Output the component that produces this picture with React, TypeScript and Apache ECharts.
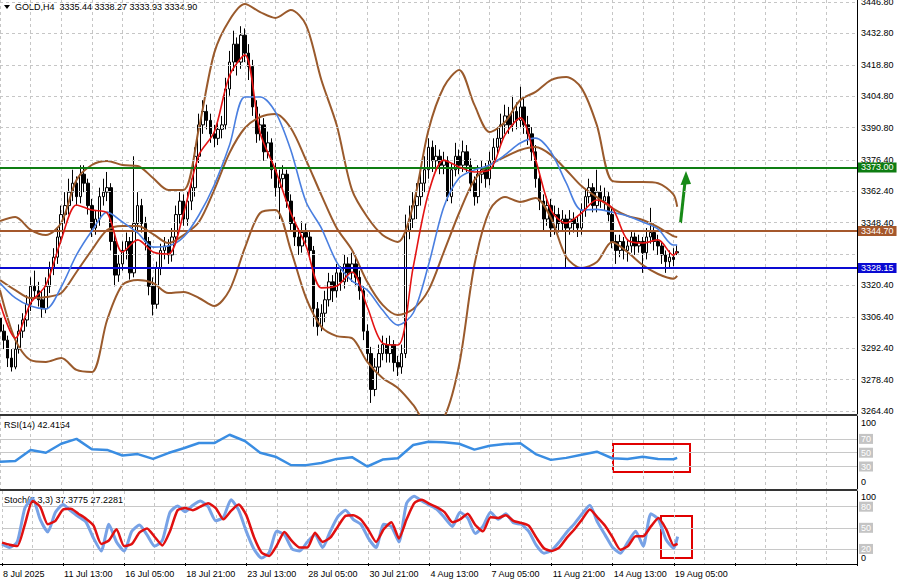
import React, { useEffect, useRef } from 'react';
import * as echarts from 'echarts';

// ---------- data ----------
const SLOT_COUNT = 225; // bars + empty space on the right
const TICK_STEP = 16;
const tickLabels = ['8 Jul 2025', '11 Jul 13:00', '16 Jul 05:00', '18 Jul 21:00', '23 Jul 13:00', '28 Jul 05:00',
  '30 Jul 21:00', '4 Aug 13:00', '7 Aug 05:00', '11 Aug 21:00', '14 Aug 13:00', '19 Aug 05:00'];

const opens = [
  3306,3300,3296,3288,3284,3292,3300,3305,3312,3320,
  3318,3314,3310,3320,3328,3333,3342,3352,3356,3362,
  3366,3360,3370,3366,3356,3346,3350,3360,3362,3364,
  3340,3325,3330,3336,3340,3326,3348,3356,3348,3340,
  3320,3312,3328,3336,3338,3334,3342,3352,3358,3350,
  3358,3364,3378,3392,3398,3394,3388,3386,3390,3392,
  3408,3420,3428,3420,3432,3424,3418,3400,3388,3392,
  3380,3384,3372,3364,3368,3370,3358,3348,3342,3338,
  3344,3342,3336,3310,3302,3308,3314,3322,3318,3326,
  3322,3330,3326,3330,3324,3318,3300,3290,3274,3284,
  3290,3294,3290,3294,3286,3284,3290,3345,3350,3356,
  3360,3366,3372,3382,3376,3378,3374,3376,3360,3372,
  3378,3374,3380,3374,3366,3360,3370,3372,3368,3376,
  3382,3386,3392,3396,3392,3398,3394,3400,3392,3388,
  3380,3368,3358,3350,3356,3346,3352,3348,3350,3346,
  3350,3348,3346,3354,3360,3364,3356,3362,3358,3360,
  3352,3340,3336,3340,3336,3338,3342,3338,3340,3335,
  3342,3344,3340,3338,3334,3331,3333,3335.44];
const closes = [
  3300,3296,3288,3284,3292,3300,3305,3312,3320,3318,
  3314,3310,3320,3328,3333,3342,3352,3356,3362,3366,
  3360,3370,3366,3356,3346,3350,3360,3362,3364,3340,
  3325,3330,3336,3340,3326,3348,3356,3348,3340,3320,
  3312,3328,3336,3338,3334,3342,3352,3358,3350,3358,
  3364,3378,3392,3398,3394,3388,3386,3390,3392,3408,
  3420,3428,3420,3432,3424,3418,3400,3388,3392,3380,
  3384,3372,3364,3368,3370,3358,3348,3342,3338,3344,
  3342,3336,3310,3302,3308,3314,3322,3318,3326,3322,
  3330,3326,3330,3324,3318,3300,3290,3274,3284,3290,
  3294,3290,3294,3286,3284,3290,3345,3350,3356,3360,
  3366,3372,3382,3376,3378,3374,3376,3360,3372,3378,
  3374,3380,3374,3366,3360,3370,3372,3368,3376,3382,
  3386,3392,3396,3392,3398,3394,3400,3392,3388,3380,
  3368,3358,3350,3356,3346,3352,3348,3350,3346,3350,
  3348,3346,3354,3360,3364,3356,3362,3358,3360,3352,
  3340,3336,3340,3336,3338,3342,3338,3340,3335,3342,
  3344,3340,3338,3334,3331,3333,3332,3334.90];
const highs = [
  3310,3303,3298,3292,3296,3303,3308,3316,3324,3327,
  3322,3318,3324,3331,3337,3346,3356,3362,3368,3372,
  3369,3374,3374,3368,3359,3354,3364,3368,3371,3366,
  3343,3334,3340,3344,3342,3378,3362,3359,3351,3342,
  3324,3331,3339,3342,3341,3346,3356,3362,3361,3362,
  3368,3382,3397,3403,3401,3397,3392,3394,3396,3413,
  3425,3434,3431,3436,3435,3428,3421,3403,3397,3395,
  3389,3386,3375,3372,3374,3372,3361,3351,3346,3349,
  3348,3345,3338,3313,3312,3318,3326,3325,3330,3329,
  3334,3333,3335,3333,3327,3320,3303,3293,3288,3294,
  3298,3297,3298,3296,3289,3294,3352,3356,3362,3366,
  3372,3378,3386,3385,3383,3381,3380,3378,3375,3384,
  3381,3385,3383,3377,3369,3374,3376,3375,3380,3386,
  3391,3397,3401,3400,3405,3402,3409,3404,3396,3391,
  3383,3371,3361,3360,3359,3356,3355,3354,3352,3354,
  3353,3351,3357,3363,3368,3366,3372,3365,3364,3362,
  3355,3343,3343,3342,3341,3345,3344,3343,3342,3346,
  3355,3348,3343,3340,3336,3336,3337,3338.27];
const lows = [
  3297,3292,3284,3282,3283,3290,3297,3302,3309,3315,
  3311,3306,3308,3317,3325,3330,3339,3348,3352,3358,
  3356,3357,3362,3352,3342,3343,3347,3356,3358,3336,
  3320,3322,3327,3332,3323,3324,3344,3344,3336,3316,
  3307,3310,3325,3332,3330,3331,3339,3348,3347,3347,
  3354,3360,3375,3388,3390,3384,3382,3383,3386,3390,
  3405,3416,3414,3417,3420,3412,3396,3384,3385,3376,
  3377,3368,3360,3350,3364,3355,3345,3338,3334,3335,
  3338,3332,3302,3298,3300,3304,3311,3313,3315,3318,
  3319,3322,3322,3320,3314,3296,3286,3268,3271,3281,
  3287,3286,3286,3282,3280,3281,3288,3341,3346,3350,
  3356,3362,3368,3371,3372,3370,3370,3358,3357,3369,
  3370,3371,3371,3362,3356,3357,3366,3364,3365,3373,
  3379,3383,3388,3388,3389,3390,3391,3388,3383,3376,
  3364,3354,3345,3347,3342,3343,3344,3345,3328,3343,
  3344,3342,3343,3351,3357,3353,3353,3355,3354,3349,
  3337,3330,3333,3332,3331,3335,3334,3335,3326,3332,
  3339,3336,3334,3330,3326,3328,3329,3333.93];

// indicator lines read every 4 bars (bar index of each reading)
const lineIdx = [0,4,8,12,16,20,24,28,32,36,40,44,48,52,56,60,64,68,72,76,80,84,88,92,96,100,
  104,108,112,116,120,124,128,132,136,140,144,148,152,156,160,164,168,172,176,177];
const maFast = [3312.5,3296.9,3312.5,3320.6,3340.7,3356.3,3354.0,3352.7,3335.3,3340.7,3335.3,3334.4,
  3352.7,3378.6,3388.8,3414.0,3423.2,3388.4,3371.9,3352.7,3338.0,3319.3,3320.1,3326.4,3310.8,3294.7,
  3293.8,3328.6,3361.6,3376.3,3373.2,3371.0,3371.9,3387.5,3395.1,3376.3,3354.0,3348.2,3352.7,3358.5,
  3355.0,3340.7,3339.3,3340.7,3333.9,3335.4];
const maSlow = [3321.5,3314.8,3311.2,3309.9,3319.7,3334.0,3344.7,3353.1,3348.7,3343.8,3337.5,3338.0,
  3342.0,3351.8,3365.2,3383.0,3404.4,3404.4,3397.7,3380.8,3357.6,3346.0,3330.8,3322.4,3318.3,3309.4,
  3302.7,3308.1,3329.5,3355.4,3368.3,3371.9,3374.1,3378.6,3383.9,3386.1,3379.9,3366.1,3354.0,3354.3,
  3353.0,3351.4,3348.7,3345.5,3338.4,3338.4];
const bbUpper = [3349.1,3350.9,3345.2,3342.9,3348.3,3367.4,3374.1,3375.9,3374.1,3373.7,3368.3,3363.0,
  3363.0,3390.6,3424.1,3438.8,3445.9,3442.3,3439.7,3443.2,3436.5,3412.0,3391.9,3363.0,3350.9,3342.9,
  3339.8,3356.3,3389.7,3408.9,3416.5,3400.9,3388.8,3393.3,3403.1,3406.7,3412.0,3413.4,3408.4,3391.9,
  3367.0,3366.5,3366.5,3366.0,3361.0,3355.5];
const bbMiddle = [3322.8,3318.3,3314.8,3315.2,3317.0,3326.4,3336.2,3345.1,3346.9,3346.9,3343.3,3339.3,
  3342.9,3348.7,3363.0,3379.5,3390.6,3395.5,3396.9,3390.6,3376.3,3360.7,3346.0,3336.2,3321.9,3311.7,
  3307.2,3309.9,3318.3,3335.3,3352.7,3367.4,3374.1,3377.7,3380.8,3382.1,3378.6,3371.9,3364.7,3359.8,
  3354.9,3351.4,3349.6,3346.4,3342.4,3342.0];
const bbLower = [3318.3,3296.1,3287.1,3286.3,3288.0,3282.7,3281.8,3305.0,3320.6,3322.8,3321.5,3317.0,
  3317.5,3314.8,3311.2,3318.3,3337.1,3352.7,3354.0,3336.2,3314.8,3301.9,3297.8,3296.9,3286.3,3279.1,
  3274.6,3267.1,3258.2,3261.3,3284.9,3329.5,3354.0,3359.8,3357.6,3359.4,3350.5,3333.1,3328.2,3330.8,
  3339.8,3335.3,3329.5,3325.5,3323.4,3324.7];
const rsiValues = [37,38,53.9,50,63,70,55,54,46,48,41,49.5,56.4,64,64,76,67,50,44.2,32.2,32,35,41,43.5,
  30,40,42,61.2,66,65,63,54.5,60,62.5,63.6,48,39.6,42.5,47,51.5,42,41,44,41,40.5,42.4154];

// stochastic read every 2 bars
const stochIdx = Array.from({ length: 89 }, (_, k) => k * 2).concat([177]);
const stochMain = [27,22,30,78,92,62,44,72,83,74, 66,58,35,17,55,30,17,45,54,40,
  24,32,72,81,73,82,88,80,60,65, 90,75,45,20,7,15,45,40,20,17,
  30,40,22,45,66,75,62,55,35,22, 55,52,30,85,95,88,82,76,64,52,
  72,64,42,52,72,62,70,57,55,45, 25,14,18,30,44,56,70,82,58,40,
  22,14,30,45,24,70,62,33,21,37.3775];
const stochSignal = [29,26,24,55,88,80,55,60,76,77, 70,63,53,27,32,48,24,27,43,49,
  37,25,45,75,78,75,80,85,78,62, 74,83,68,37,15,10,25,44,31,22,
  22,43,30,36,52,67,68,62,47,30, 48,58,35,62,85,90,84,79,72,58,
  62,70,54,45,65,64,68,60,57,53, 36,21,17,22,36,48,62,76,65,53,
  36,19,24,38,38,52,64,48,25,27.2281];

const priceTicks = [3446.8,3432.8,3418.8,3404.8,3390.8,3376.4,3362.4,3348.4,3334.4,3320.4,3306.4,3292.4,3278.4,3264.4];
const priceTickLabels = ['3446.80','3432.80','3418.80','3404.80','3390.80','3376.40','3362.40','3348.40','','3320.40','3306.40','3292.40','3278.40','3264.40'];
const priceLevels = [3373.00, 3344.70, 3328.15];
const priceLevelLabels = ['3373.00', '3344.70', '3328.15'];
const lastPrice = 3334.90;
const rsiLevels = [70, 50, 30];
const stochLevels = [80, 50, 20];

const headerText = 'GOLD,H4  3335.44 3338.27 3333.93 3334.90';
const rsiText = 'RSI(14) 42.4154';
const stochText = 'Stoch(5,3,3) 37.3775 27.2281';

// ---------- styling ----------
const FONT = "'Liberation Sans', Arial, sans-serif";
const GRID_C = '#c6c6c6';
const BROWN = '#9a5a2c';
const LEVEL_COLORS = ['#0e7d12', '#a5582c', '#0a0ad2'];

const categories = Array.from({ length: SLOT_COUNT }, (_, i) =>
  i % TICK_STEP === 0 && i / TICK_STEP < tickLabels.length ? tickLabels[i / TICK_STEP] : '');
const pairs = (idx: number[], vals: number[]) => idx.map((x, k) => [x, vals[k]]);

function buildOption() {
  const grids = [
    { left: -1, width: 858, top: 0, height: 414 },
    { left: -1, width: 858, top: 416, height: 73 },
    { left: -1, width: 858, top: 491, height: 73 },
  ];
  const mkX = (gi: number, labels: boolean) => ({
    type: 'category', gridIndex: gi, data: categories, boundaryGap: false,
    axisLine: { show: false },
    axisTick: { show: labels, interval: (i: number) => i % TICK_STEP === 0, length: 3, lineStyle: { color: '#000' } },
    axisLabel: {
      show: labels, interval: (i: number) => i % TICK_STEP === 0, align: 'left', margin: 5,
      fontSize: 9, color: '#000', fontFamily: FONT, padding: [0, 0, 0, 1],
    },
    splitLine: { show: true, interval: (i: number) => i % 8 === 0, lineStyle: { color: GRID_C, type: [3, 3], width: 1 } },
  });
  const mkY = (gi: number, min: number, max: number) => ({
    type: 'value', gridIndex: gi, min, max, position: 'right',
    axisLine: { show: true, lineStyle: { color: '#000', width: 1 } },
    axisTick: { show: false }, axisLabel: { show: false }, splitLine: { show: false },
  });
  const lineS = (xi: number, data: any[], color: string, width: number, z: number, smooth: any = 0.3) => ({
    type: 'line', xAxisIndex: xi, yAxisIndex: xi, data, symbol: 'none', smooth, z,
    lineStyle: { color, width }, silent: true,
  });
  const boxLabel = {
    position: 'end', formatter: '{b}', fontSize: 9, fontFamily: FONT, distance: 2,
    color: '#ffffff', backgroundColor: '#c4c4c4', padding: [1, 2, 0, 2],
  };

  return {
    animation: false,
    backgroundColor: '#ffffff',
    grid: grids,
    xAxis: [mkX(0, false), mkX(1, false), mkX(2, true)],
    yAxis: [mkY(0, 3263.06, 3447.69), mkY(1, -2.6, 103.2), mkY(2, -1.4, 102.3)],
    series: [
      {
        type: 'line', xAxisIndex: 0, yAxisIndex: 0, data: [], z: 1, silent: true,
        markLine: {
          silent: true, symbol: ['none', 'none'], animation: false,
          lineStyle: { color: GRID_C, type: [3, 3], width: 1 },
          label: { position: 'end', formatter: '{b}', color: '#000', fontSize: 9, fontFamily: FONT, distance: 4 },
          data: priceTicks.map((v, k) => ({ yAxis: v, name: priceTickLabels[k] })),
        },
      },
      {
        type: 'line', xAxisIndex: 0, yAxisIndex: 0, data: [], z: 2, silent: true,
        markLine: {
          silent: true, symbol: ['none', 'none'], animation: false,
          label: { position: 'end', formatter: '{b}', fontSize: 9, fontFamily: FONT, distance: 1, color: '#fff', padding: [1, 3, 0, 3] },
          data: [
            ...priceLevels.map((v, k) => ({
              yAxis: v, name: priceLevelLabels[k],
              lineStyle: { color: LEVEL_COLORS[k], width: 2, type: 'solid' },
              label: { backgroundColor: LEVEL_COLORS[k] },
            })),
            { yAxis: lastPrice, name: lastPrice.toFixed(2), lineStyle: { opacity: 0, width: 0 }, label: { backgroundColor: '#000' } },
          ],
        },
      },
      {
        type: 'candlestick', xAxisIndex: 0, yAxisIndex: 0, z: 3, barWidth: 3, silent: true,
        itemStyle: { color: '#ffffff', color0: '#000000', borderColor: '#000000', borderColor0: '#000000', borderWidth: 1 },
        data: opens.map((o, i) => [o, closes[i], lows[i], highs[i]]),
      },
      lineS(0, pairs(lineIdx, bbUpper), BROWN, 2, 4),
      lineS(0, pairs(lineIdx, bbMiddle), BROWN, 2, 4),
      lineS(0, pairs(lineIdx, bbLower), BROWN, 2, 4),
      lineS(0, pairs(lineIdx, maSlow), '#4a7fe0', 1.6, 5),
      lineS(0, pairs(lineIdx, maFast), '#e41414', 1.6, 6),
      {
        ...lineS(1, pairs(lineIdx, rsiValues), '#3a8de2', 2.5, 5, false),
        markLine: {
          silent: true, symbol: ['none', 'none'], animation: false,
          lineStyle: { color: '#c8c8c8', type: 'solid', width: 1 },
          label: boxLabel,
          data: rsiLevels.map((v) => ({ yAxis: v, name: String(v) })),
        },
      },
      {
        ...lineS(2, pairs(stochIdx, stochMain), '#77a2e6', 3, 5, 0.2),
        markLine: {
          silent: true, symbol: ['none', 'none'], animation: false,
          lineStyle: { color: '#c8c8c8', type: 'solid', width: 1 },
          label: boxLabel,
          data: stochLevels.map((v) => ({ yAxis: v, name: String(v) })),
        },
      },
      lineS(2, pairs(stochIdx, stochSignal), '#e01010', 2.5, 6, 0.2),
    ],
    graphic: [
      { type: 'polygon', shape: { points: [[4, 5], [10, 5], [7, 9]] }, style: { fill: '#000' }, silent: true },
      { type: 'text', x: 15, y: 7, style: { text: headerText, fill: '#000', fontSize: 9, fontFamily: FONT, verticalAlign: 'middle' }, silent: true },
      { type: 'text', x: 4, y: 425, style: { text: rsiText, fill: '#000', fontSize: 9, fontFamily: FONT, verticalAlign: 'middle' }, silent: true },
      { type: 'text', x: 4, y: 500, style: { text: stochText, fill: '#000', fontSize: 9, fontFamily: FONT, verticalAlign: 'middle' }, silent: true },
      { type: 'text', x: 861, y: 423, style: { text: '100', fill: '#000', fontSize: 9, fontFamily: FONT, verticalAlign: 'middle' }, silent: true },
      { type: 'text', x: 861, y: 482, style: { text: '0', fill: '#000', fontSize: 9, fontFamily: FONT, verticalAlign: 'middle' }, silent: true },
      { type: 'text', x: 861, y: 497, style: { text: '100', fill: '#000', fontSize: 9, fontFamily: FONT, verticalAlign: 'middle' }, silent: true },
      { type: 'text', x: 861, y: 558, style: { text: '0', fill: '#000', fontSize: 9, fontFamily: FONT, verticalAlign: 'middle' }, silent: true },
      // panel separators
      { type: 'line', shape: { x1: 0, y1: 415, x2: 857, y2: 415 }, style: { stroke: '#333', lineWidth: 2 }, silent: true },
      { type: 'line', shape: { x1: 0, y1: 490, x2: 857, y2: 490 }, style: { stroke: '#333', lineWidth: 2 }, silent: true },
      { type: 'line', shape: { x1: 0, y1: 564.5, x2: 857, y2: 564.5 }, style: { stroke: '#000', lineWidth: 1 }, silent: true },
      // annotations
      { type: 'rect', shape: { x: 613, y: 444, width: 77, height: 28 }, style: { fill: 'none', stroke: '#e00000', lineWidth: 2 }, silent: true },
      { type: 'rect', shape: { x: 661, y: 516, width: 31, height: 42 }, style: { fill: 'none', stroke: '#e00000', lineWidth: 2 }, silent: true },
      { type: 'line', shape: { x1: 680.5, y1: 223, x2: 685, y2: 182 }, style: { stroke: '#178a17', lineWidth: 3 }, silent: true },
      { type: 'polygon', shape: { points: [[686, 171], [680.5, 185], [691, 184]] }, style: { fill: '#178a17' }, silent: true },
    ],
  };
}

export default function App() {
  const ref = useRef<HTMLDivElement>(null);
  useEffect(() => {
    if (!ref.current) return;
    const chart = echarts.init(ref.current, null, { renderer: 'svg' });
    chart.setOption(buildOption() as any);
    return () => chart.dispose();
  }, []);
  return (
    <div style={{ position: 'absolute', left: 0, top: 0, width: 900, height: 585, background: '#fff' }}>
      <div ref={ref} style={{ width: 900, height: 585 }} />
    </div>
  );
}
